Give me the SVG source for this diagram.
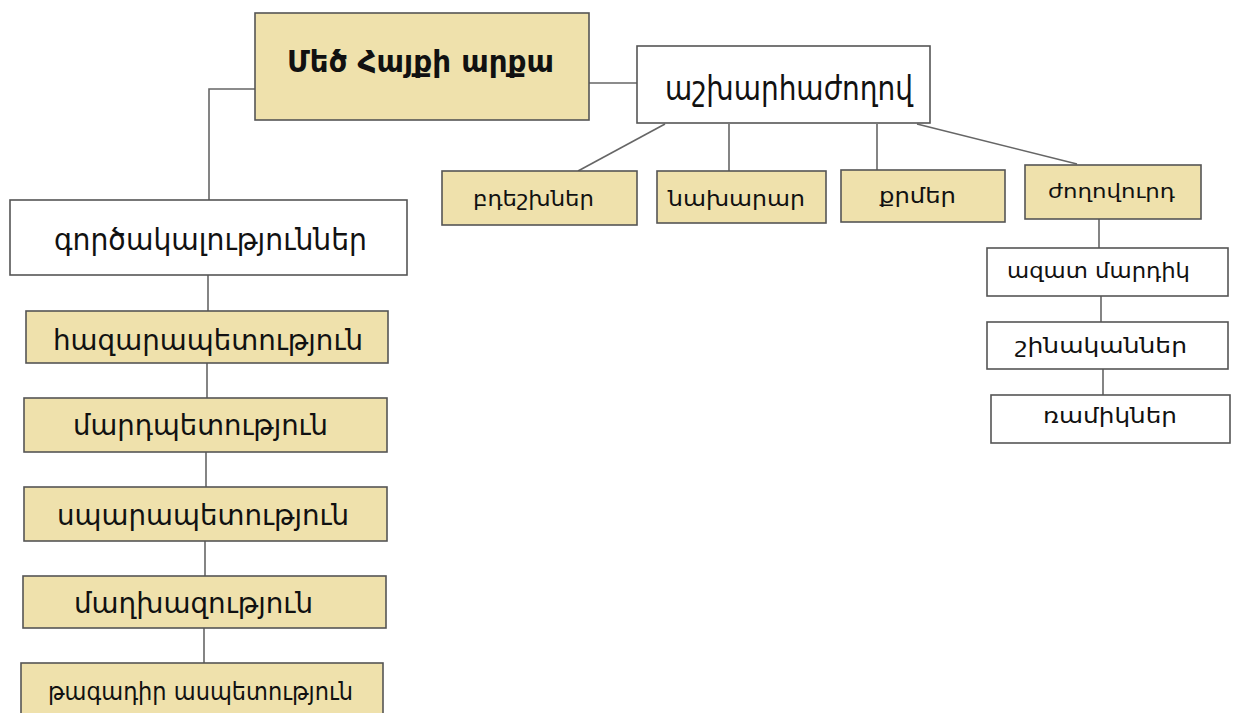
<svg xmlns="http://www.w3.org/2000/svg" width="1237" height="713" viewBox="0 0 1237 713">
<style>
.y{fill:#efe1ac;stroke:#555;stroke-width:1.6}
.w{fill:#fff;stroke:#555;stroke-width:1.6}
.t{font-family:"DejaVu Sans",sans-serif;fill:#111;text-anchor:start}
.c{fill:none;stroke:#666;stroke-width:1.6}
</style>
<rect width="1237" height="713" fill="#fff"/>
<g id="connectors">
<polyline class="c" points="255,89 209,89 209,200"/>
<line class="c" x1="589" y1="83" x2="637" y2="83"/>
<line class="c" x1="665" y1="124" x2="578" y2="171"/>
<line class="c" x1="729" y1="124" x2="729" y2="171"/>
<line class="c" x1="877" y1="124" x2="877" y2="170"/>
<line class="c" x1="917" y1="124" x2="1077" y2="164"/>
<line class="c" x1="1099" y1="219" x2="1099" y2="248"/>
<line class="c" x1="1101" y1="296" x2="1101" y2="322"/>
<line class="c" x1="1103" y1="369" x2="1103" y2="395"/>
<line class="c" x1="208" y1="275" x2="208" y2="311"/>
<line class="c" x1="207" y1="363" x2="207" y2="398"/>
<line class="c" x1="206" y1="452" x2="206" y2="487"/>
<line class="c" x1="205" y1="541" x2="205" y2="576"/>
<line class="c" x1="204" y1="628" x2="204" y2="663"/>
</g>
<g id="king">
<rect class="y" x="255" y="13" width="334" height="107"/>
<text class="t" x="287" y="72" font-size="31" font-weight="bold" textLength="267" lengthAdjust="spacingAndGlyphs">Մեծ Հայքի արքա</text>
</g>
<g id="ashkharhazhoghov">
<rect class="w" x="637" y="46" width="293" height="77"/>
<text class="t" x="665" y="100" font-size="33" textLength="248" lengthAdjust="spacingAndGlyphs">աշխարհաժողով</text>
</g>
<g id="bdeshkhner">
<rect class="y" x="442" y="171" width="195" height="54"/>
<text class="t" x="473" y="206" font-size="21" textLength="121" lengthAdjust="spacingAndGlyphs">բդեշխներ</text>
</g>
<g id="nakharar">
<rect class="y" x="657" y="171" width="169" height="52"/>
<text class="t" x="668" y="206" font-size="22" textLength="137" lengthAdjust="spacingAndGlyphs">նախարար</text>
</g>
<g id="qrmer">
<rect class="y" x="841" y="170" width="164" height="52"/>
<text class="t" x="879" y="203" font-size="21" textLength="77" lengthAdjust="spacingAndGlyphs">քրմեր</text>
</g>
<g id="zhoghovurd">
<rect class="y" x="1025" y="165" width="176" height="54"/>
<text class="t" x="1048" y="198" font-size="20" textLength="127" lengthAdjust="spacingAndGlyphs">ժողովուրդ</text>
</g>
<g id="azat">
<rect class="w" x="987" y="248" width="241" height="48"/>
<text class="t" x="1007" y="278" font-size="21" textLength="183" lengthAdjust="spacingAndGlyphs">ազատ մարդիկ</text>
</g>
<g id="shinakan">
<rect class="w" x="987" y="322" width="241" height="47"/>
<text class="t" x="1015" y="353" font-size="21" textLength="172" lengthAdjust="spacingAndGlyphs">շինականներ</text>
</g>
<g id="ramik">
<rect class="w" x="991" y="395" width="239" height="48"/>
<text class="t" x="1043" y="423" font-size="21" textLength="134" lengthAdjust="spacingAndGlyphs">ռամիկներ</text>
</g>
<g id="gortsakal">
<rect class="w" x="10" y="200" width="397" height="75"/>
<text class="t" x="54" y="250" font-size="31" textLength="313" lengthAdjust="spacingAndGlyphs">գործակալություններ</text>
</g>
<g id="hazarapet">
<rect class="y" x="26" y="311" width="362" height="52"/>
<text class="t" x="53" y="350" font-size="28" textLength="310" lengthAdjust="spacingAndGlyphs">հազարապետություն</text>
</g>
<g id="mardpet">
<rect class="y" x="24" y="398" width="363" height="54"/>
<text class="t" x="73" y="435" font-size="28" textLength="255" lengthAdjust="spacingAndGlyphs">մարդպետություն</text>
</g>
<g id="sparapet">
<rect class="y" x="24" y="487" width="363" height="54"/>
<text class="t" x="57" y="525" font-size="28" textLength="292" lengthAdjust="spacingAndGlyphs">սպարապետություն</text>
</g>
<g id="maghkhaz">
<rect class="y" x="23" y="576" width="363" height="52"/>
<text class="t" x="74" y="613" font-size="28" textLength="239" lengthAdjust="spacingAndGlyphs">մաղխազություն</text>
</g>
<g id="tagadir">
<rect class="y" x="21" y="663" width="362" height="60"/>
<text class="t" x="48" y="700" font-size="24" textLength="305" lengthAdjust="spacingAndGlyphs">թագադիր ասպետություն</text>
</g>
</svg>
